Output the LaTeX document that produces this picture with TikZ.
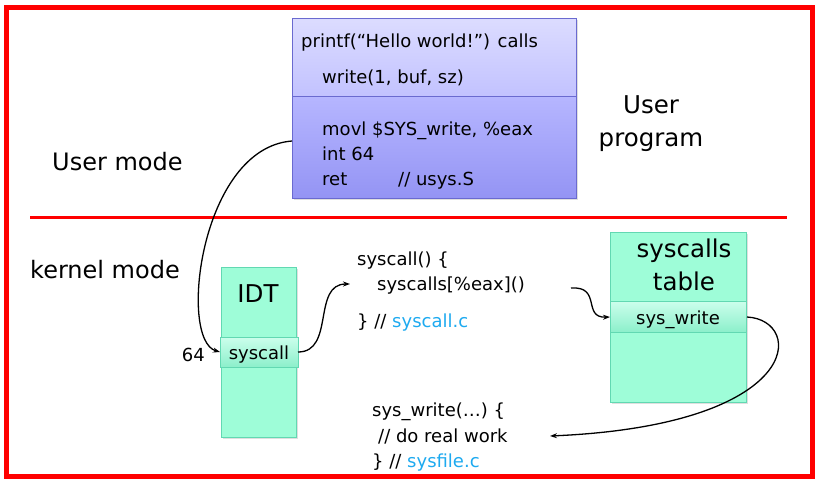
\documentclass[tikz,border=0pt]{standalone}
\usepackage{fontspec}
\setmainfont{DejaVu Sans}
\usetikzlibrary{arrows.meta,shadows}
\definecolor{frame}{HTML}{FF0000}
\definecolor{ubord}{HTML}{6A6AD0}
\definecolor{utop1}{HTML}{DCDCFF}
\definecolor{utop2}{HTML}{C2C2FF}
\definecolor{ubot1}{HTML}{B6B6FF}
\definecolor{ubot2}{HTML}{9494F4}
\definecolor{kfill}{HTML}{9EFDD8}
\definecolor{kbord}{HTML}{62D8B2}
\definecolor{krow1}{HTML}{CCFFEC}
\definecolor{krow2}{HTML}{8CEFCB}
\definecolor{fileblue}{HTML}{1EAAF0}
\tikzset{
  txt/.style={anchor=base west, inner sep=0pt, font=\fontsize{18}{21}\selectfont},
  big/.style={anchor=base, inner sep=0pt, font=\fontsize{24.5}{28}\selectfont},
  mode/.style={anchor=base west, inner sep=0pt, font=\fontsize{24}{28}\selectfont},
  ubox/.style={draw=ubord, line width=0.8pt, drop shadow={shadow xshift=1.5pt, shadow yshift=-1.5pt, opacity=0.25}},
  kbox/.style={draw=kbord, line width=0.8pt, fill=kfill, drop shadow={shadow xshift=1.5pt, shadow yshift=-1.5pt, opacity=0.25}},
  krow/.style={draw=kbord, line width=0.8pt, top color=krow1, bottom color=krow2},
  conn/.style={line width=1.3pt, -{Stealth[length=7pt,width=5pt]}},
}
\begin{document}
\begin{tikzpicture}[x=1pt,y=-1pt]
\useasboundingbox (0,0) rectangle (819,482);
\fill[white] (0,0) rectangle (819,482);
% frame
\draw[frame, line width=5pt] (6,7) rectangle (812,476);
% separator
\draw[frame, line width=3pt] (30,217) -- (787,217);

% user box
\path[ubox, top color=utop1, bottom color=utop2] (292,18) rectangle (576,96);
\path[ubox, top color=ubot1, bottom color=ubot2] (292,96) rectangle (576,198);
\node[txt] (pf) at (301,47) {printf(“Hello world!”) calls};
\node[txt] (wr) at (322,83) {write(1, buf, sz)};
\node[txt] (mv) at (322,135) {movl \$SYS\_write, \%eax};
\node[txt] (i64) at (322,160) {int 64};
\node[txt] (rt) at (322,185) {ret};
\node[txt] (us) at (398,185) {// usys.S};
\coordinate (ustart) at (292,141);

\node[big] (uu) at (651,113) {User};
\node[big] (up) at (651,146) {program};
\node[mode] (um) at (52,170) {User mode};
\node[mode] (km) at (30,278) {kernel mode};

% IDT
\path[kbox] (221,267) rectangle (296,437);
\path[krow] (220,337) rectangle (298,367);
\node[big] (idt) at (258,302) {IDT};
\node[txt, anchor=base] (sc) at (259,359) {syscall};
\node[txt, anchor=base east] (n64) at (205,361) {64};
\coordinate (scl) at (220,352);
\coordinate (scr) at (298,352);

% syscalls table
\path[kbox] (610,232) rectangle (746,402);
\path[krow] (610,301) rectangle (746,332);
\node[big] (st1) at (684,257) {syscalls};
\node[big] (st2) at (684,290) {table};
\node[txt, anchor=base] (sw) at (678,324) {sys\_write};
\coordinate (swl) at (610,317);
\coordinate (swr) at (747,317);

% code
\node[txt] (c1) at (357,265) {syscall() \{};
\node[txt] (c2) at (377,290) {syscalls[\%eax]()};
\node[txt] (c3) at (357,327) {\} // \textcolor{fileblue}{syscall.c}};
\coordinate (c1in) at (350,284);
\coordinate (c2out) at (571,288);

\node[txt] (d1) at (372,416) {sys\_write(…) \{};
\node[txt] (d2) at (378,442) {// do real work};
\node[txt] (d3) at (372,467) {\} // \textcolor{fileblue}{sysfile.c}};
\coordinate (d2in) at (550,436);

% connectors
\draw[conn] (ustart) .. controls (200,148) and (178,340) .. (scl);
\draw[conn] (scr) .. controls (335,352) and (312,284) .. (c1in);
\draw[conn] (c2out) .. controls (602,286) and (582,318) .. (swl);
\draw[conn] (swr) .. controls (805,320) and (805,425) .. (d2in);
\end{tikzpicture}
\end{document}
